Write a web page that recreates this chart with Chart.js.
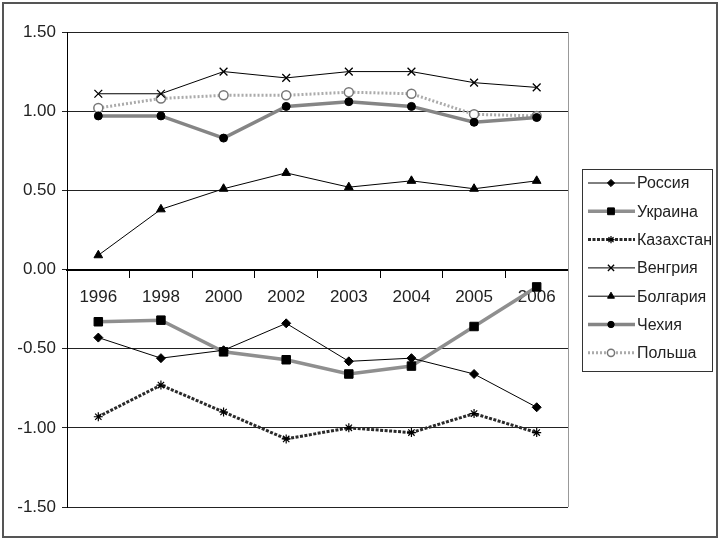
<!DOCTYPE html>
<html>
<head>
<meta charset="utf-8">
<script src="https://cdn.jsdelivr.net/npm/chart.js@4/dist/chart.umd.min.js"></script>
<style>
  body { margin: 0; background: #fff; }
  canvas { display: block; }
</style>
</head>
<body>
<canvas id="chart" width="720" height="540"></canvas>
<script>
// ---------- Data ----------
const years = ["1996", "1998", "2000", "2002", "2003", "2004", "2005", "2006"];

const russia     = [-0.43, -0.56, -0.51, -0.34, -0.58, -0.56, -0.66, -0.87];
const ukraine    = [-0.33, -0.32, -0.52, -0.57, -0.66, -0.61, -0.36, -0.11];
const kazakhstan = [-0.93, -0.73, -0.90, -1.07, -1.00, -1.03, -0.91, -1.03];
const hungary    = [1.11, 1.11, 1.25, 1.21, 1.25, 1.25, 1.18, 1.15];
const bulgaria   = [0.09, 0.38, 0.51, 0.61, 0.52, 0.56, 0.51, 0.56];
const czechia    = [0.97, 0.97, 0.83, 1.03, 1.06, 1.03, 0.93, 0.96];
const poland     = [1.02, 1.08, 1.10, 1.10, 1.12, 1.11, 0.98, 0.97];

const yTicks = [-1.5, -1.0, -0.5, 0, 0.5, 1.0, 1.5];

const FONT = "'Liberation Sans', Arial, sans-serif";

// ---------- Datasets ----------
const datasets = [
  { label: "Россия", data: russia, borderColor: "#000", borderWidth: 1,
    pointStyle: "rectRot", pointRadius: 4.5, pointBackgroundColor: "#000", pointBorderColor: "#000" },
  { label: "Украина", data: ukraine, borderColor: "#8f8f8f", borderWidth: 3.5,
    pointStyle: "rect", pointRadius: 6, pointBackgroundColor: "#000", pointBorderColor: "#000", pointBorderWidth: 1 },
  { label: "Казахстан", data: kazakhstan, borderColor: "#2a2a2a", borderWidth: 3, borderDash: [3, 1.5],
    pointStyle: "star", pointRadius: 4.5, pointBackgroundColor: "#000", pointBorderColor: "#000", pointBorderWidth: 1.2 },
  { label: "Венгрия", data: hungary, borderColor: "#000", borderWidth: 1,
    pointStyle: "crossRot", pointRadius: 5.5, pointBorderColor: "#000", pointBorderWidth: 1.3 },
  { label: "Болгария", data: bulgaria, borderColor: "#000", borderWidth: 1,
    pointStyle: "triangle", pointRadius: 5, pointBackgroundColor: "#000", pointBorderColor: "#000" },
  { label: "Чехия", data: czechia, borderColor: "#858585", borderWidth: 3.5,
    pointStyle: "circle", pointRadius: 4, pointBackgroundColor: "#000", pointBorderColor: "#000", pointBorderWidth: 1 },
  { label: "Польша", data: poland, borderColor: "#ababab", borderWidth: 3, borderDash: [2, 2],
    pointStyle: "circle", pointRadius: 4.5, pointBackgroundColor: "#fff", pointBorderColor: "#777", pointBorderWidth: 1.5 }
];
datasets.forEach(d => { d.fill = false; d.tension = 0; d.borderCapStyle = "butt"; });

// ---------- Frame + legend plugin ----------
const framePlugin = {
  id: "frame",
  beforeDraw(chart) {
    const ctx = chart.ctx;
    ctx.save();
    ctx.fillStyle = "#fff";
    ctx.fillRect(0, 0, chart.width, chart.height);
    ctx.strokeStyle = "#555";
    ctx.lineWidth = 2;
    ctx.strokeRect(3, 3, chart.width - 6, chart.height - 6);
    ctx.restore();
  },
  beforeDatasetsDraw(chart) {
    // plot area right border
    const a = chart.chartArea, ctx = chart.ctx;
    ctx.save();
    ctx.strokeStyle = "#999";
    ctx.lineWidth = 1;
    ctx.beginPath();
    ctx.moveTo(a.right + 0.5, a.top);
    ctx.lineTo(a.right + 0.5, a.bottom);
    ctx.stroke();
    ctx.restore();
  },
  afterDraw(chart) {
    const ctx = chart.ctx;
    const box = { x: 582, y: 169, w: 130, h: 202 };
    ctx.save();
    ctx.strokeStyle = "#333";
    ctx.lineWidth = 1;
    ctx.strokeRect(box.x + 0.5, box.y + 0.5, box.w, box.h);
    ctx.font = "16px " + FONT;
    ctx.textBaseline = "middle";
    chart.data.datasets.forEach((d, i) => {
      const y = 183 + i * 28.3;
      ctx.strokeStyle = d.borderColor;
      ctx.lineWidth = d.borderWidth;
      ctx.setLineDash(d.borderDash || []);
      ctx.beginPath();
      ctx.moveTo(588, y);
      ctx.lineTo(635, y);
      ctx.stroke();
      ctx.setLineDash([]);
      ctx.fillStyle = d.pointBackgroundColor || "#000";
      ctx.strokeStyle = d.pointBorderColor || "#000";
      ctx.lineWidth = d.pointBorderWidth || 1;
      Chart.helpers.drawPoint(ctx, {
        pointStyle: d.pointStyle,
        radius: d.pointRadius * 0.8,
        rotation: 0,
        borderWidth: d.pointBorderWidth || 1
      }, 611, y);
      ctx.fillStyle = "#222";
      ctx.fillText(d.label, 637, y + 1);
    });
    ctx.restore();
  }
};

// ---------- Chart ----------
const ctx = document.getElementById("chart").getContext("2d");
new Chart(ctx, {
  type: "line",
  data: { labels: years, datasets: datasets },
  plugins: [framePlugin],
  options: {
    responsive: false,
    animation: false,
    layout: { padding: { left: 0, right: 152, top: 32, bottom: 33 } },
    plugins: { legend: { display: false }, tooltip: { enabled: false } },
    scales: {
      x: {
        type: "category",
        offset: true,
        position: { y: 0 },
        grid: { offset: true, drawOnChartArea: false, drawTicks: true, tickLength: 7, color: "#000", lineWidth: 1 },
        border: { display: true, color: "#000", width: 2 },
        ticks: { color: "#222", font: { family: FONT, size: 17 }, padding: 11, maxRotation: 0, autoSkip: false }
      },
      y: {
        min: -1.5,
        max: 1.5,
        afterBuildTicks: scale => { scale.ticks = yTicks.map(v => ({ value: v })); },
        afterFit: scale => { scale.width = 67; },
        grid: { color: "#222", lineWidth: 1, tickLength: 5 },
        border: { display: true, color: "#000", width: 1 },
        ticks: { color: "#222", font: { family: FONT, size: 17 }, padding: 6,
                 callback: v => v.toFixed(2) }
      }
    }
  }
});
</script>
</body>
</html>
